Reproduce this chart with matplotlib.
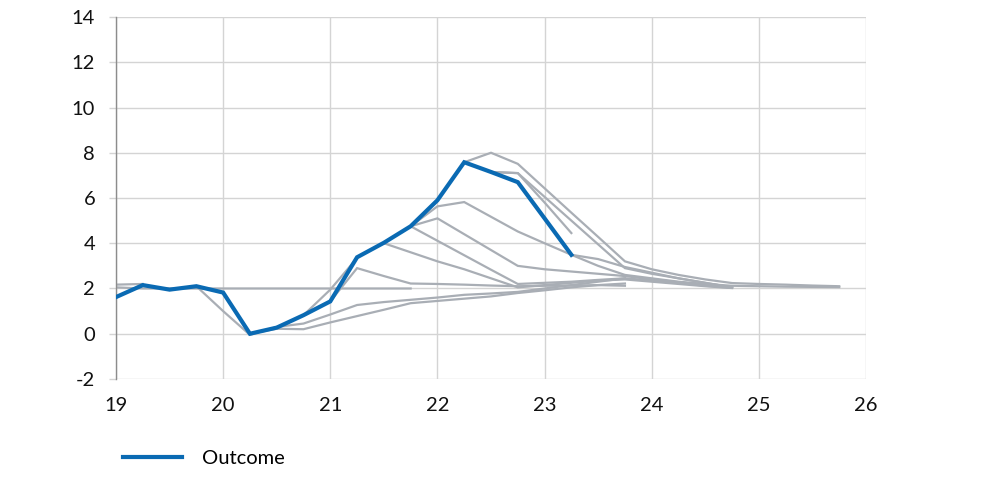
import matplotlib
matplotlib.use("Agg")
import matplotlib.pyplot as plt
import numpy as np

plt.rcParams['font.family'] = ['Lato', 'DejaVu Sans']
plt.rcParams['axes.unicode_minus'] = False

# Outcome (quarterly, starting 19.0)
outcome_start = 19.0
outcome = [1.62, 2.15, 1.95, 2.1, 1.82, 0.0, 0.27, 0.82, 1.43, 3.38, 4.02,
           4.75, 5.9, 7.58, 7.15, 6.7, 5.1, 3.49]

# Forecast vintages: (start x, quarterly values)
fc0_start, fc0 = 19.0, [2.17, 2.2]
fc1_start, fc1 = 19.0, [2.05, 2.0, 2.0, 2.0, 2.0, 2.0, 2.0, 2.0, 2.0, 2.0, 2.0, 2.0]
fc2_start, fc2 = 19.75, [2.1, 1.0, -0.05, 0.3, 0.45, 0.85, 1.27, 1.4, 1.5, 1.6,
                         1.72, 1.78, 1.85, 2.0, 2.15, 2.3, 2.45]
fc3_start, fc3 = 20.25, [0.0, 0.22, 0.2, 0.5, 0.78, 1.06, 1.35, 1.45, 1.55, 1.65,
                         1.8, 1.92, 2.05, 2.15, 2.22]
fc4_start, fc4 = 20.75, [0.82, 1.95, 3.35]
fc5_start, fc5 = 21.0, [1.43, 2.9, 2.55, 2.22, 2.2, 2.17, 2.13, 2.1, 2.12, 2.13,
                        2.15, 2.12]
fc6_start, fc6 = 21.5, [4.0, 3.6, 3.2, 2.85, 2.45, 2.05, 2.15, 2.25, 2.35, 2.4,
                        2.3, 2.2, 2.1, 2.02]
fc7_start, fc7 = 21.75, [4.75, 4.11, 3.47, 2.83, 2.2, 2.25, 2.3, 2.38, 2.45,
                         2.35, 2.25, 2.12, 2.03]
fc8_start, fc8 = 21.75, [4.75, 5.1, 4.4, 3.7, 3.0, 2.85, 2.75, 2.65, 2.55, 2.4,
                         2.28, 2.15, 2.05]
fc9_start, fc9 = 21.75, [4.75, 5.63, 5.82, 5.17, 4.52, 4.0, 3.49, 3.3, 2.95,
                         2.7, 2.45, 2.25, 2.05]
fc10_start, fc10 = 22.5, [7.15, 7.1, 5.8, 4.45]
fc11_start, fc11 = 22.25, [7.58, 8.0, 7.51, 6.43, 5.35, 4.28, 3.2, 2.85, 2.6,
                           2.4, 2.24, 2.2, 2.17, 2.13, 2.1]
fc12_start, fc12 = 22.5, [7.15, 7.1, 6.05, 5.0, 3.95, 2.9, 2.65, 2.45, 2.25, 2.05]
fc13_start, fc13 = 23.25, [3.49, 3.0, 2.6, 2.45, 2.3, 2.2, 2.12, 2.1, 2.08,
                           2.07, 2.06]

forecasts = [(fc0_start, fc0), (fc1_start, fc1), (fc2_start, fc2), (fc3_start, fc3),
             (fc4_start, fc4), (fc5_start, fc5), (fc6_start, fc6), (fc7_start, fc7),
             (fc8_start, fc8), (fc9_start, fc9), (fc10_start, fc10),
             (fc11_start, fc11), (fc12_start, fc12), (fc13_start, fc13)]

x_ticks = [19, 20, 21, 22, 23, 24, 25, 26]
y_ticks = [-2, 0, 2, 4, 6, 8, 10, 12, 14]

grey = '#A9AEB5'
blue = '#0A6AB3'

fig = plt.figure(figsize=(10, 4.86), dpi=100)
ax = fig.add_axes([0.116, 0.2202, 0.75, 0.7448])

def qx(start, n):
    return start + 0.25 * np.arange(n)

for s, vals in forecasts:
    ax.plot(qx(s, len(vals)), vals, color=grey, lw=1.6, solid_joinstyle='miter',
            zorder=2)

ax.plot(qx(outcome_start, len(outcome)), outcome, color=blue, lw=3.0,
        label='Outcome', zorder=3, solid_joinstyle='miter')

ax.set_xlim(19, 26)
ax.set_ylim(-2, 14)
ax.set_xticks(x_ticks)
ax.set_yticks(y_ticks)
ax.set_xticklabels([str(v) for v in x_ticks])
ax.set_yticklabels([str(v) for v in y_ticks])
ax.grid(True, color='#D4D4D4', lw=1.0, zorder=0)
ax.set_axisbelow(True)
for side in ['top', 'right', 'bottom']:
    ax.spines[side].set_visible(False)
ax.spines['left'].set_color('#8C8C8C')
ax.spines['left'].set_linewidth(1.0)
ax.tick_params(axis='y', length=5, color='#D4D4D4', width=1.0, pad=10,
               labelsize=14.5, labelcolor='#111111')
ax.tick_params(axis='x', length=0, pad=13, labelsize=14.5, labelcolor='#111111')

leg = ax.legend(loc='center left', bbox_to_anchor=(0.105, 0.056),
                bbox_transform=fig.transFigure, frameon=False, fontsize=14.5,
                handlelength=2.9, handletextpad=1.0)

fig.savefig('out.png', dpi=100)
